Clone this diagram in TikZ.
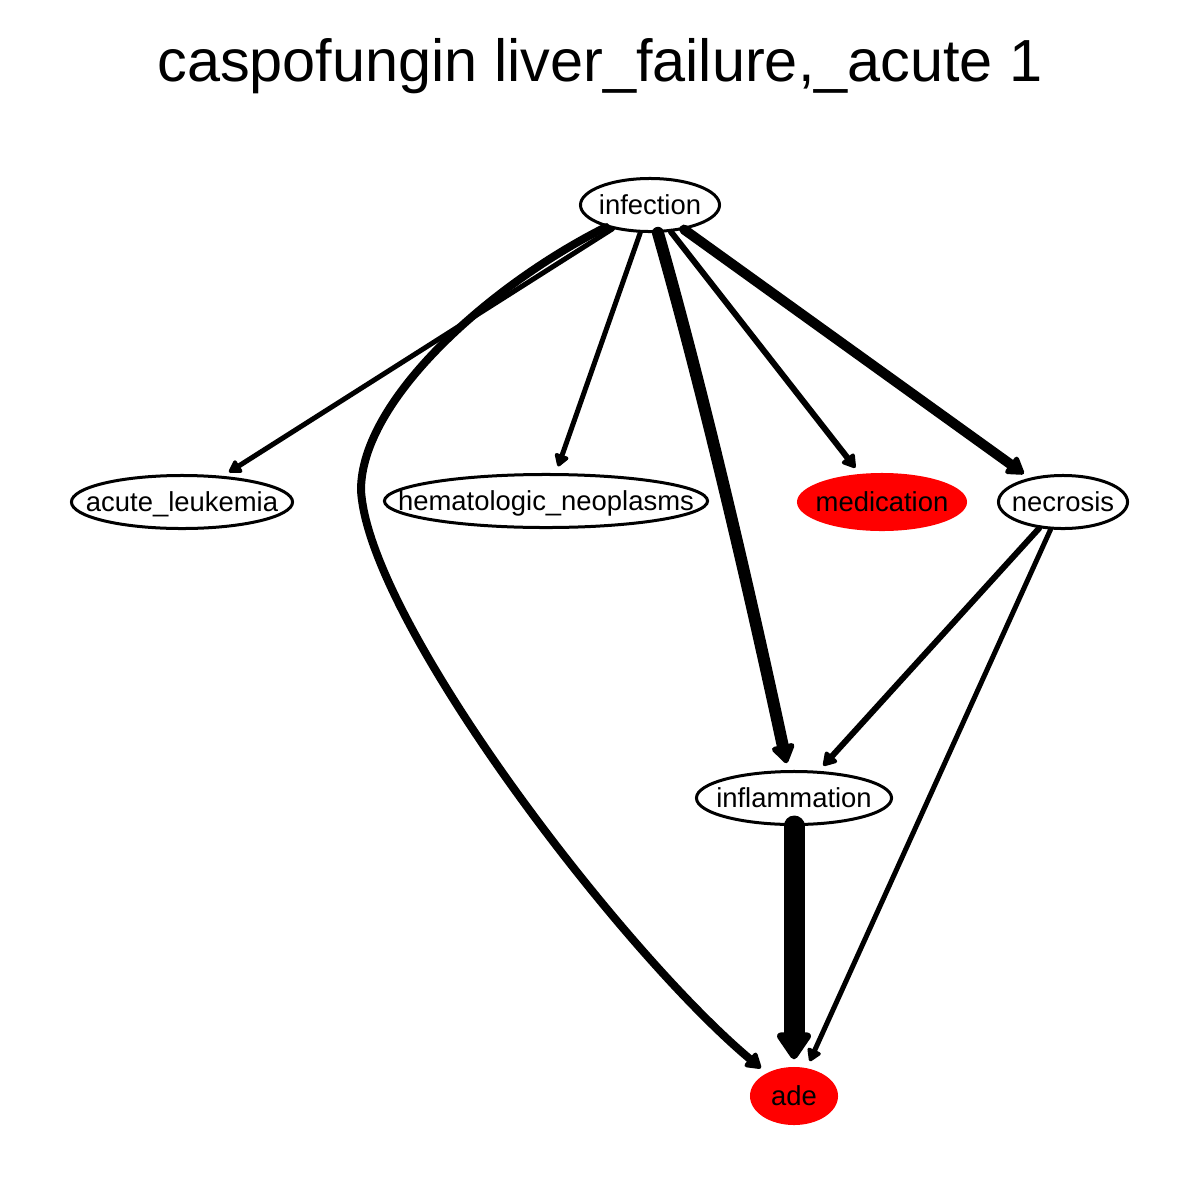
\documentclass[tikz,border=0pt]{standalone}
\usepackage{fontspec}
\setmainfont{Liberation Sans}
\usetikzlibrary{shapes.geometric,arrows.meta}
\newcommand{\lbl}[1]{\makebox[0pt][c]{#1}}
\tikzset{
  nd/.style={ellipse, draw, line width=0.03cm, inner sep=0pt, text height=0.18cm, text depth=0cm,
    font=\fontsize{7.8pt}{9pt}\selectfont, minimum height=0.53cm},
  rednd/.style={ellipse, fill=red, inner sep=0pt, text height=0.18cm, text depth=0cm,
    font=\fontsize{7.8pt}{9pt}\selectfont, minimum height=0.58cm},
  edg/.style={-{Triangle[length=0.09cm 1,width=0.09cm 1.4,round]}, line cap=round, line join=round, shorten >=0.07cm},
}
\begin{document}
\begin{tikzpicture}[x=0.01cm,y=-0.01cm]
\path[use as bounding box, fill=white] (0,0) rectangle (1200,1200);
\node[inner sep=0pt, font=\fontsize{16.9pt}{20pt}\selectfont] (title) at (600,66) {caspofungin liver\_failure,\_acute 1};

\node[nd, minimum width=1.39cm] (infection) at (650,205) {\lbl{infection}};
\node[nd, minimum width=2.21cm] (acute) at (182,502) {\lbl{acute\_leukemia}};
\node[nd, minimum width=3.23cm] (hemato) at (546,501) {\lbl{hematologic\_neoplasms}};
\node[rednd, minimum width=1.70cm] (medication) at (882,502) {\lbl{medication}};
\node[nd, minimum width=1.29cm] (necrosis) at (1063,502) {\lbl{necrosis}};
\node[nd, minimum width=1.95cm] (inflammation) at (794,798) {\lbl{inflammation}};
\node[rednd, minimum width=0.88cm] (ade) at (794,1096) {\lbl{ade}};

\draw[edg, line width=0.05cm] (infection) -- (acute);
\draw[edg, line width=0.05cm] (infection) -- (hemato);
\draw[edg, line width=0.06cm] (infection) -- (medication);
\draw[edg, line width=0.10cm] (infection) -- (necrosis);
\draw[edg, line width=0.12cm] (infection) .. controls (700,380) and (745,570) .. (inflammation);
\draw[edg, line width=0.08cm] (infection) .. controls (490,285) and (361,400) .. (361,490)
   .. controls (368,620) and (620,950) .. (ade);
\draw[edg, line width=0.06cm] (necrosis) -- (inflammation);
\draw[edg, line width=0.05cm] (necrosis) -- (ade);
\draw[edg, line width=0.21cm] (inflammation) -- (ade);
\end{tikzpicture}
\end{document}
